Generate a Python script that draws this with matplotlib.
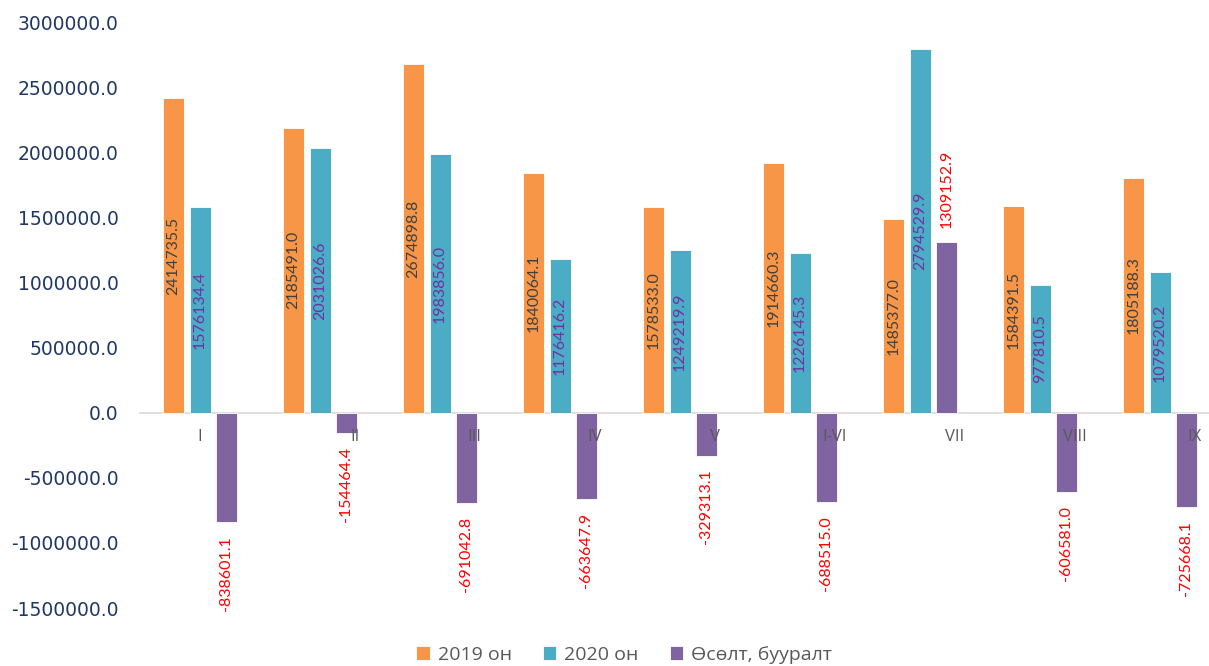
import matplotlib.pyplot as plt
import numpy as np

months = ["I", "II", "III", "IV", "V", "I-VI", "VII", "VIII", "IX"]
y2019 = [2414735.5, 2185491.0, 2674898.8, 1840064.1, 1578533.0,
         1914660.3, 1485377.0, 1584391.5, 1805188.3]
y2020 = [1576134.4, 2031026.6, 1983856.0, 1176416.2, 1249219.9,
         1226145.3, 2794529.9, 977810.5, 1079520.2]
change = [-838601.1, -154464.4, -691042.8, -663647.9, -329313.1,
          -688515.0, 1309152.9, -606581.0, -725668.1]
series_names = ["2019 он", "2020 он", "Өсөлт, бууралт"]

C_ORANGE = "#F79646"
C_TEAL = "#4BACC6"
C_PURPLE = "#8064A2"

W, H = 1209, 666
fig = plt.figure(figsize=(W / 100, H / 100), dpi=100)
ax = fig.add_axes([140 / W, 1 - 608 / H, 1 - 140 / W, (608 - 22) / H])

x = np.arange(len(months))
bw = 0.175
off = 0.22
b1 = ax.bar(x - off, y2019, bw, color=C_ORANGE, edgecolor="white", linewidth=0.6,
            label=series_names[0], zorder=2)
b2 = ax.bar(x, y2020, bw, color=C_TEAL, edgecolor="white", linewidth=0.6,
            label=series_names[1], zorder=2)
b3 = ax.bar(x + off, change, bw, color=C_PURPLE, edgecolor="white", linewidth=0.6,
            label=series_names[2], zorder=2)

lab_font = dict(family=["Lato", "DejaVu Sans"], fontsize=11.5, rotation=90)
for xi, v in zip(x, y2019):
    ax.text(xi - off, v / 2, f"{v:.1f}", ha="center", va="center",
            color="#404040", zorder=3, **lab_font)
for xi, v in zip(x, y2020):
    ax.text(xi, v / 2, f"{v:.1f}", ha="center", va="center",
            color="#7030A0", zorder=3, **lab_font)
for xi, v in zip(x, change):
    if v < 0:
        ax.annotate(f"{v:.1f}", (xi + off, v), xytext=(0, -10),
                    textcoords="offset points", ha="center", va="top",
                    color="#FF0000", zorder=3, **lab_font)
    else:
        ax.annotate(f"{v:.1f}", (xi + off, v), xytext=(0, 10),
                    textcoords="offset points", ha="center", va="bottom",
                    color="#FF0000", zorder=3, **lab_font)

ax.set_xlim(-0.5, (W - 200) / 120)
ax.set_ylim(-1500000, 3000000)
ax.set_yticks(np.arange(-1500000, 3000001, 500000))
ax.yaxis.set_major_formatter(plt.FuncFormatter(lambda v, p: f"{v:.1f}"))
ax.tick_params(axis="y", length=0, pad=15.5, labelsize=13.5, labelcolor="#203864")
for lbl in ax.get_yticklabels():
    lbl.set_family("DejaVu Sans")

# category labels sit just under the zero line, drawn over the bars
ax.set_axisbelow(False)
ax.spines["bottom"].set_position(("data", 0))
ax.spines["bottom"].set_color("#D9D9D9")
ax.spines["bottom"].set_linewidth(1.2)
ax.spines["bottom"].set_zorder(1)
for s in ["top", "right", "left"]:
    ax.spines[s].set_visible(False)
tick_pos = [0] + [i + 0.29 for i in range(1, len(months))]
ax.set_xticks(tick_pos)
ax.set_xticklabels(months, fontsize=12, color="#595959", family=["Open Sans", "DejaVu Sans"])
ax.tick_params(axis="x", length=0, pad=12)

fig.legend(handles=[b1, b2, b3], loc="center", bbox_to_anchor=(624 / W, 1 - 655 / H),
           ncol=3, frameon=False, handlelength=0.7, handleheight=0.7,
           handletextpad=0.4, columnspacing=1.6,
           prop={"family": ["Open Sans", "DejaVu Sans"], "size": 14})
for t in fig.legends[0].get_texts():
    t.set_color("#595959")

fig.savefig("out.png", dpi=100)
